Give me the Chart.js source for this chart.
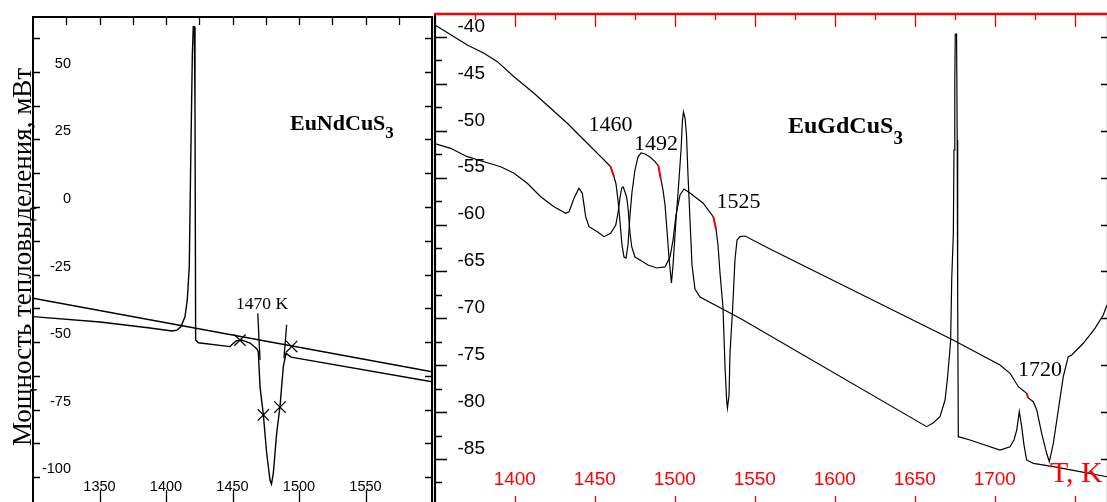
<!DOCTYPE html>
<html>
<head>
<meta charset="utf-8">
<script src="https://cdn.jsdelivr.net/npm/chart.js@4.4.1/dist/chart.umd.min.js"></script>
<style>
html, body { margin: 0; padding: 0; background: #fff; overflow: hidden; }
#wrap { position: relative; width: 1107px; height: 502px; overflow: hidden; }
#ndChart { position: absolute; left: 0; top: 0; }
#gdChart { position: absolute; left: 432px; top: 0; }
</style>
</head>
<body>
<div id="wrap">
  <canvas id="ndChart" width="434" height="520"></canvas>
  <canvas id="gdChart" width="680" height="520"></canvas>
</div>
<script>
// ---- EuNdCuS3 (left panel), T in K, power in mW ----
const ndBaseT = [1300, 1600];
const ndBaseP = [-33.8, -61.0];
const ndCurveT = [1300, 1350.4, 1388.0, 1404.5, 1408.3, 1411.3, 1414.3, 1416.0, 1417.5, 1418.6, 1419.8, 1420.5, 1421.3, 1421.8, 1422.3, 1424.3,
  1448.1, 1452.6, 1457.1, 1463.2, 1468.4, 1469.4, 1470.7, 1473.2, 1475.7, 1478.2, 1479.3, 1480.7, 1483.2, 1485.7, 1488.2, 1490.2, 1494.0, 1600];
const ndCurveP = [-40.6, -42.6, -44.8, -45.9, -45.6, -44.3, -40.6, -34.4, -22.1, 17.4, 56.3, 66.8, 66.8, 37.8, -49.3, -50.3,
  -51.7, -49.6, -49.3, -50.4, -52.6, -53.7, -66.6, -77.0, -91.2, -101.1, -102.6, -98.6, -83.8, -74.0, -59.1, -54.2, -55.6, -64.7];
const ndTangentT = [1469.0, 1470.7, 1470.7, 1490.7, 1488.7];
const ndTangentP = [-39.4, -56.7, null, -43.7, -56.0];
const ndCrossT = [1455.6, 1494.5, 1473.2, 1485.7];
const ndCrossP = [-49.3, -51.7, -77.0, -74.1];
const ndXTicks = [1350, 1400, 1450, 1500, 1550];
const ndYTicks = [-100, -75, -50, -25, 0, 25, 50];

// ---- EuGdCuS3 (right panel) ----
const gdCurveAT = [1350.1, 1362.0, 1370.3, 1380.75, 1389.1, 1399.5, 1412.0, 1422.4, 1432.8, 1443.25, 1453.7, 1458.9, 1459.9, 1462.0,
  1463.25, 1464.5, 1465.75, 1467.0, 1468.25, 1469.5, 1470.75, 1472.0, 1473.25, 1475.1, 1477.0, 1478.9, 1481.4, 1484.5, 1487.6,
  1489.7, 1491.2, 1492.6, 1493.9, 1495.1, 1496.4, 1497.9, 1498.9, 1500.75, 1502.6, 1503.9, 1504.8, 1505.4, 1506.4, 1507.3,
  1508.25, 1509.5, 1510.75, 1512.6, 1515.75, 1540.75, 1657.4, 1661.4, 1665.75, 1668.9, 1670.3, 1671.6, 1672.4, 1673.1, 1674.1,
  1674.5, 1675.0, 1675.3, 1676.1, 1676.5, 1676.8, 1677.2, 1684.5, 1703.25, 1709.5, 1712.0, 1713.7, 1715.3, 1716.8, 1718.25,
  1719.9, 1724.1, 1736.6, 1753.25, 1770.1];
const gdCurveAP = [-38.72, -39.97, -40.85, -41.74, -42.63, -44.23, -46.0, -47.6, -49.2, -50.98, -52.76, -53.65, -53.83, -54.90,
  -55.67, -57.38, -59.73, -62.18, -63.46, -63.57, -62.18, -58.98, -56.53, -54.18, -52.80, -52.37, -52.48, -52.80, -53.28,
  -53.72, -55.07, -56.31, -57.91, -60.58, -63.57, -66.23, -64.31, -59.51, -55.25, -52.05, -48.85, -48.0, -48.64, -50.45,
  -54.72, -59.51, -64.31, -66.87, -67.72, -70.0, -81.55, -81.16, -80.49, -78.71, -76.57, -74.09, -72.31, -65.70, -60.90,
  -52.05, -44.59, -39.68, -39.68, -50.98, -68.04, -82.62, -82.97, -84.04, -83.69, -82.97, -81.91, -79.95, -81.55, -83.51,
  -85.10, -85.46, -85.82, -86.35, -86.89];
const gdCurveBT = [1349.5, 1359.9, 1370.3, 1380.75, 1391.2, 1399.5, 1407.8, 1416.2, 1424.5, 1431.8, 1433.9, 1437.0, 1440.1, 1442.2,
  1444.3, 1446.4, 1451.6, 1455.75, 1459.9, 1463.1, 1464.5, 1465.75, 1466.8, 1467.8, 1469.9, 1470.9, 1472.0, 1473.1, 1475.1,
  1478.25, 1483.25, 1488.7, 1493.9, 1497.0, 1498.9, 1500.75, 1503.25, 1505.75, 1509.5, 1517.6, 1524.1, 1525.75, 1527.0,
  1528.25, 1530.1, 1531.4, 1532.4, 1532.9, 1533.9, 1534.5, 1536.2, 1537.6, 1538.9, 1540.75, 1543.9, 1559.5, 1673.9, 1703.25,
  1709.5, 1714.7, 1719.9, 1720.9, 1724.1, 1726.2, 1729.3, 1732.4, 1734.1, 1736.6, 1739.7, 1742.8, 1745.9, 1748.1, 1755.3,
  1762.6, 1767.8, 1770.1];
const gdCurveBP = [-51.33, -51.87, -52.76, -53.30, -53.83, -54.53, -55.60, -57.03, -58.10, -58.80, -58.63, -57.20, -56.13, -56.67,
  -59.16, -60.23, -60.76, -61.29, -60.93, -60.05, -58.77, -57.17, -56.10, -55.99, -57.06, -58.45, -60.90, -62.39, -63.46,
  -63.78, -64.31, -64.63, -64.52, -63.46, -61.65, -58.98, -56.85, -56.21, -56.63, -57.70, -59.19, -60.47, -62.18,
  -65.17, -68.79, -75.19, -78.71, -79.56, -78.17, -73.69, -68.79, -63.78, -61.65, -61.29, -61.22, -62.61, -72.31, -74.97,
  -75.86, -77.29, -77.99, -78.49, -78.89, -79.77, -82.26, -84.39, -85.29, -83.32, -79.77, -76.22, -74.09, -73.91, -72.66,
  -71.06, -69.64, -68.58];
const gdRedFromT = [1459.9, 1489.7, 1524.1, 1719.9];
const gdRedFromP = [-53.83, -53.72, -59.19, -77.99];
const gdRedToT = [1462.0, 1491.2, 1525.75, 1720.9];
const gdRedToP = [-54.90, -55.07, -60.47, -78.49];
const gdNoteText = ['1460', '1492', '1525', '1720'];
const gdNoteT = [1459.8, 1488.25, 1539.8, 1728.25];
const gdNoteP = [-49.44, -51.46, -57.65, -75.56];
const gdXTicks = [1400, 1450, 1500, 1550, 1600, 1650, 1700];
const gdYTicks = [-40, -45, -50, -55, -60, -65, -70, -75, -80, -85];

const black = '#000';
const red = '#ff0000';
const sans = '"Liberation Sans", Arial, sans-serif';
const serif = '"Liberation Serif", "Times New Roman", serif';

const pts = (xs, ys) => xs.map((x, i) => ({ x: x, y: ys[i] }));

function curve(xs, ys, width, color) {
  return {
    data: pts(xs, ys), showLine: true, borderColor: color || black, borderWidth: width,
    pointRadius: 0, fill: false, tension: 0, spanGaps: false, order: 1
  };
}

function formula(ctx, base, sub, x, y, size, subSize, drop) {
  ctx.textAlign = 'left';
  ctx.textBaseline = 'alphabetic';
  ctx.font = 'bold ' + size + 'px ' + serif;
  ctx.fillText(base, x, y);
  const w = ctx.measureText(base).width;
  ctx.font = 'bold ' + subSize + 'px ' + serif;
  ctx.fillText(sub, x + w, y + drop);
}

function baseOptions(padding, xMin, xMax, yMin, yMax) {
  return {
    responsive: false,
    animation: false,
    devicePixelRatio: 1,
    events: [],
    layout: { padding: padding, autoPadding: false },
    plugins: { legend: { display: false }, tooltip: { enabled: false } },
    scales: {
      x: { type: 'linear', display: false, min: xMin, max: xMax },
      y: { type: 'linear', display: false, min: yMin, max: yMax }
    }
  };
}

// frame, inner ticks and labels of the left panel
const ndAxes = {
  id: 'ndAxes',
  beforeDatasetsDraw(chart) {
    const { ctx, chartArea: a, scales: { x, y } } = chart;
    ctx.save();
    ctx.strokeStyle = black;
    ctx.lineWidth = 2;
    ctx.strokeRect(a.left, a.top, a.right - a.left, a.bottom - a.top);
    ctx.lineWidth = 1.3;
    ctx.beginPath();
    for (let t = 1325; t < 1600; t += 25) {
      const px = Math.round(x.getPixelForValue(t)) + 0.5;
      ctx.moveTo(px, a.top); ctx.lineTo(px, a.top + 8);
    }
    ndXTicks.forEach(t => {
      const px = Math.round(x.getPixelForValue(t)) + 0.5;
      ctx.moveTo(px, a.bottom); ctx.lineTo(px, a.bottom - 16);
    });
    for (let v = -100; v <= 62.5; v += 12.5) {
      const py = Math.round(y.getPixelForValue(v)) + 0.5;
      ctx.moveTo(a.left, py); ctx.lineTo(a.left + 7, py);
      ctx.moveTo(a.right, py); ctx.lineTo(a.right - 7, py);
    }
    ctx.stroke();

    ctx.fillStyle = black;
    ctx.font = '14.5px ' + sans;
    ctx.textAlign = 'right';
    ctx.textBaseline = 'middle';
    ndYTicks.forEach(v => ctx.fillText(String(v), a.left + 38, y.getPixelForValue(v) - 8));
    ctx.textAlign = 'center';
    ndXTicks.forEach(t => ctx.fillText(String(t), x.getPixelForValue(t), a.bottom - 19));

    ctx.save();
    ctx.translate(31, 257);
    ctx.rotate(-Math.PI / 2);
    ctx.font = '27px ' + serif;
    ctx.textAlign = 'center';
    ctx.textBaseline = 'alphabetic';
    ctx.fillText('Мощность тепловыделения, мВт', 0, 0);
    ctx.restore();
    ctx.restore();
  },
  afterDatasetsDraw(chart) {
    const { ctx, scales: { x, y } } = chart;
    ctx.save();
    ctx.fillStyle = black;
    formula(ctx, 'EuNdCuS', '3', x.getPixelForValue(1493.2), y.getPixelForValue(28.5), 22, 17, 8);
    ctx.font = '17.5px ' + serif;
    ctx.textAlign = 'center';
    ctx.textBaseline = 'middle';
    ctx.fillText('1470 K', x.getPixelForValue(1472.2), y.getPixelForValue(-35.9));
    ctx.restore();
  }
};

// frame, inner ticks and labels of the right panel
const gdAxes = {
  id: 'gdAxes',
  beforeDatasetsDraw(chart) {
    const { ctx, chartArea: a, scales: { x, y } } = chart;
    ctx.save();
    // black left / right sides
    ctx.strokeStyle = black;
    ctx.lineWidth = 2.2;
    ctx.beginPath();
    ctx.moveTo(a.left + 1, a.top); ctx.lineTo(a.left + 1, a.bottom);
    ctx.moveTo(a.right, a.top); ctx.lineTo(a.right, a.bottom);
    ctx.stroke();
    ctx.lineWidth = 1.3;
    ctx.beginPath();
    for (let v = -87.5; v <= -40; v += 2.5) {
      const py = Math.round(y.getPixelForValue(v)) + 0.5;
      const len = (v % 5 === 0) ? 13 : 8;
      ctx.moveTo(a.left, py); ctx.lineTo(a.left + len, py);
      if (v % 5 === 0) { ctx.moveTo(a.right, py); ctx.lineTo(a.right - 7, py); }
    }
    ctx.stroke();
    // red top / bottom sides
    ctx.strokeStyle = red;
    ctx.lineWidth = 2.6;
    ctx.beginPath();
    ctx.moveTo(a.left, a.top); ctx.lineTo(a.right, a.top);
    ctx.moveTo(a.left, a.bottom); ctx.lineTo(a.right, a.bottom);
    ctx.stroke();
    ctx.lineWidth = 1.3;
    ctx.beginPath();
    for (let t = 1375; t <= 1750; t += 25) {
      const px = Math.round(x.getPixelForValue(t)) + 0.5;
      const len = (t % 50 === 0) ? 13 : 6;
      ctx.moveTo(px, a.top); ctx.lineTo(px, a.top + len);
      if (t % 50 === 0) { ctx.moveTo(px, a.bottom); ctx.lineTo(px, a.bottom - 10); }
    }
    ctx.stroke();

    ctx.font = '19px ' + sans;
    ctx.textBaseline = 'middle';
    ctx.fillStyle = black;
    ctx.textAlign = 'right';
    gdYTicks.forEach(v => ctx.fillText(String(v), a.left + 51, y.getPixelForValue(v) - 10.5));
    ctx.fillStyle = red;
    ctx.textAlign = 'center';
    gdXTicks.forEach(t => ctx.fillText(String(t), x.getPixelForValue(t), a.bottom - 26));
    ctx.restore();
  },
  afterDatasetsDraw(chart) {
    const { ctx, scales: { x, y } } = chart;
    ctx.save();
    ctx.fillStyle = black;
    ctx.font = '22px ' + serif;
    ctx.textAlign = 'center';
    ctx.textBaseline = 'middle';
    gdNoteText.forEach((s, i) => ctx.fillText(s, x.getPixelForValue(gdNoteT[i]), y.getPixelForValue(gdNoteP[i])));
    formula(ctx, 'EuGdCuS', '3', x.getPixelForValue(1570.75), y.getPixelForValue(-50.24), 24, 19, 11);
    ctx.fillStyle = red;
    ctx.font = '30px ' + serif;
    ctx.textAlign = 'left';
    ctx.textBaseline = 'alphabetic';
    ctx.fillText('T, K', x.getPixelForValue(1734.5), y.getPixelForValue(-87.45));
    ctx.restore();
  }
};

new Chart(document.getElementById('ndChart'), {
  type: 'scatter',
  data: {
    datasets: [
      curve(ndBaseT, ndBaseP, 1.4),
      curve(ndCurveT, ndCurveP, 1.4),
      curve(ndTangentT, ndTangentP, 1.3),
      {
        data: pts(ndCrossT, ndCrossP), showLine: false, pointStyle: 'crossRot', pointRadius: 8,
        borderColor: black, borderWidth: 1.2, backgroundColor: black, order: 0
      }
    ]
  },
  options: baseOptions({ left: 33, right: 2, top: 17, bottom: 14 }, 1300, 1600, -110.74, 70.37),
  plugins: [ndAxes]
});

const redMarks = [];
gdRedFromT.forEach((t, i) => {
  redMarks.push({ x: t, y: gdRedFromP[i] }, { x: gdRedToT[i], y: gdRedToP[i] }, { x: gdRedToT[i], y: null });
});

new Chart(document.getElementById('gdChart'), {
  type: 'scatter',
  data: {
    datasets: [
      curve(gdCurveAT, gdCurveAP, 1.2),
      curve(gdCurveBT, gdCurveBP, 1.2),
      {
        data: redMarks, showLine: true, borderColor: red, borderWidth: 2, pointRadius: 0,
        spanGaps: false, tension: 0, order: 0
      }
    ]
  },
  options: baseOptions({ left: 2, right: 4, top: 14, bottom: 14 }, 1349.5, 1770.75, -90.01, -37.547),
  plugins: [gdAxes]
});
</script>
</body>
</html>
